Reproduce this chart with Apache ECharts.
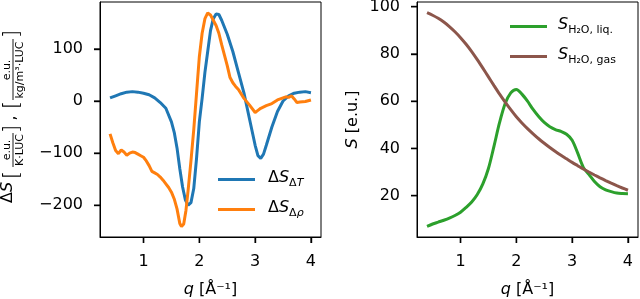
<!DOCTYPE html>
<html>
<head>
<meta charset="utf-8">
<script src="https://cdn.jsdelivr.net/npm/echarts@6/dist/echarts.min.js"></script>
<style>html,body{margin:0;padding:0;background:#fff}#c{width:640px;height:299px}</style>
</head>
<body>
<div id="c"></div>
<script>
// ---- data ----
const qDT  = [0.40,0.50,0.60,0.70,0.80,0.90,1.00,1.10,1.20,1.30,1.40,1.50,1.55,1.60,1.65,1.70,1.75,1.80,1.85,1.90,1.95,2.00,2.05,2.10,2.15,2.20,2.25,2.30,2.35,2.40,2.50,2.60,2.70,2.80,2.90,2.95,3.00,3.05,3.10,3.15,3.20,3.30,3.40,3.50,3.60,3.70,3.80,3.90,4.00];
const sDT  = [6,10,14,17,18,17,15,12,6,-3,-14,-40,-60,-90,-130,-165,-190,-200,-195,-168,-110,-40,5,55,95,135,158,167,166,155,128,95,55,15,-35,-60,-85,-105,-110,-102,-85,-50,-20,0,10,15,17,18,16];
const qDrho = [0.40,0.45,0.50,0.55,0.60,0.65,0.70,0.75,0.80,0.85,0.90,0.95,1.00,1.05,1.10,1.15,1.20,1.25,1.30,1.35,1.40,1.45,1.50,1.55,1.60,1.65,1.68,1.72,1.76,1.80,1.85,1.90,1.95,2.00,2.05,2.10,2.15,2.20,2.25,2.30,2.35,2.40,2.45,2.50,2.55,2.60,2.65,2.70,2.80,2.90,3.00,3.05,3.10,3.20,3.30,3.40,3.50,3.55,3.60,3.65,3.70,3.75,3.80,3.90,4.00];
const sDrho = [-63,-80,-95,-101,-94,-98,-104,-100,-98,-99,-102,-105,-108,-115,-124,-135,-138,-141,-146,-152,-159,-166,-175,-188,-207,-235,-241,-236,-210,-170,-115,-55,15,85,130,158,169,165,155,145,130,108,88,68,45,35,28,22,5,-8,-22,-18,-14,-9,-5,2,6,8,7,10,4,-3,-2,-1,2];
const qS   = [0.40,0.50,0.60,0.70,0.80,0.90,1.00,1.10,1.20,1.30,1.40,1.50,1.60,1.70,1.80,1.90,2.00,2.10,2.20,2.30,2.40,2.50,2.60,2.70,2.80,2.90,3.00,3.10,3.20,3.30,3.40,3.50,3.60,3.70,3.80,3.90,4.00];
const sLiq = [7,8,8.8,9.6,10.5,11.6,13,15,17.3,20.5,25,31.5,41,51,59,63.5,65,63,60,56.5,53.5,51,49.2,48,47.2,46,43.5,38,32,29,26,23.8,22.5,21.7,21.1,20.9,20.8];
const sGas = [97.5,96.4,95.1,93.5,91.6,89.4,86.9,84.1,81.0,77.6,74.0,70.3,66.6,63.0,59.6,56.4,53.4,50.8,48.4,46.2,44.1,42.2,40.4,38.7,37.1,35.6,34.1,32.7,31.3,30.0,28.75,27.55,26.4,25.3,24.25,23.25,22.3];
const xTicks = [1,2,3,4];
const yTicksL = [-200,-100,0,100];
const yTicksR = [20,40,60,80,100];
// axis ranges
const xRange = [0.22, 4.18];
const yRangeL = [-261, 190];
const yRangeR = [2.5, 102];

const FF = 'DejaVu Sans';
const pair = (qs, vs) => qs.map((q, i) => [q, vs[i]]);
const minus = v => String(v).replace('-', '\u2212');

const subRich = {
  n:  {fontFamily: FF, fontSize: 16, color: '#000', verticalAlign: 'bottom', padding: [0,0,3,0]},
  i:  {fontFamily: FF, fontSize: 16, color: '#000', fontStyle: 'italic', verticalAlign: 'bottom', padding: [0,0,3,0]},
  p:  {fontFamily: FF, fontSize: 16, color: '#000', verticalAlign: 'bottom', padding: [0,0,3,8]},
  ip: {fontFamily: FF, fontSize: 16, color: '#000', fontStyle: 'italic', verticalAlign: 'bottom', padding: [0,0,3,6]},
  sn: {fontFamily: FF, fontSize: 11, color: '#000', verticalAlign: 'bottom'},
  si: {fontFamily: FF, fontSize: 11, color: '#000', fontStyle: 'italic', verticalAlign: 'bottom'}
};
const legendLabels = {
  dT:   '{p|Δ}{i|S}{sn|Δ}{si|T}',
  drho: '{p|Δ}{i|S}{sn|Δ}{si|ρ}',
  liq:  '{ip|S}{sn|H₂O, liq.}',
  gas:  '{ip|S}{sn|H₂O, gas}'
};
function mkLegend(name, left, top) {
  return {
    data: [name], left: left, top: top, padding: 0, orient: 'vertical',
    icon: 'rect', itemWidth: 37, itemHeight: 3, selectedMode: false,
    formatter: n => legendLabels[n],
    textStyle: {rich: subRich}
  };
}
const tick = (vals) => ({show: true, length: 6, customValues: vals, lineStyle: {color: '#000', width: 1.4}});
const lbl = (vals, extra) => Object.assign({customValues: vals, color: '#000', fontFamily: FF, fontSize: 16, margin: 17}, extra || {});
const axLine = () => ({show: true, onZero: false, lineStyle: {color: '#000'}});
const nameRich = () => ({rich: {i: {fontFamily: FF, fontSize: 16, fontStyle: 'italic', color: '#000'}, n: {fontFamily: FF, fontSize: 16, color: '#000'}}});

// outward tick marks placed through the axes' own scales (at the axis edge)
function xTickSeries(ax) {
  const yMin = ax === 0 ? yRangeL[0] : yRangeR[0];
  return {type: 'scatter', xAxisIndex: ax, yAxisIndex: ax, silent: true, clip: false, z: 10,
    symbol: 'rect', symbolSize: [1.4, 6], symbolOffset: [0, 3], itemStyle: {color: '#000'},
    data: xTicks.map(t => [t, yMin])};
}
function yTickSeries(ax) {
  const vals = ax === 0 ? yTicksL : yTicksR;
  return {type: 'scatter', xAxisIndex: ax, yAxisIndex: ax, silent: true, clip: false, z: 10,
    symbol: 'rect', symbolSize: [6, 1.4], symbolOffset: [-3, 0], itemStyle: {color: '#000'},
    data: vals.map(t => [xRange[0], t])};
}

const chart = echarts.init(document.getElementById('c'));

// left y-axis title with fractions, built as text pieces in a rotated group
const tStyle = (text, size, extra) => Object.assign({text: text, fontFamily: FF, fontSize: size, fill: '#000', align: 'center', verticalAlign: 'middle'}, extra || {});
const br = {fontWeight: 200};
const yTitle = {
  type: 'group', x: 14, y: 203, rotation: Math.PI / 2,
  children: [
    {type: 'text', x: 0, y: -6, style: {text: '{n|Δ}{i|S}', align: 'left', verticalAlign: 'middle', rich: {
      n: {fontFamily: FF, fontSize: 16, color: '#000'}, i: {fontFamily: FF, fontSize: 16, color: '#000', fontStyle: 'italic'}}}},
    {type: 'text', x: 28, y: -1, style: tStyle('[', 21, br)},
    {type: 'text', x: 53, y: -7, style: tStyle('e.u.', 11)},
    {type: 'line', shape: {x1: 36, y1: -1, x2: 70, y2: -1}, style: {stroke: '#000', lineWidth: 0.9}},
    {type: 'text', x: 53, y: 6, style: tStyle('K·LUC', 11)},
    {type: 'text', x: 74, y: -1, style: tStyle(']', 21, br)},
    {type: 'text', x: 85, y: -3, style: tStyle(',', 16)},
    {type: 'text', x: 98, y: -1, style: tStyle('[', 21, br)},
    {type: 'text', x: 133, y: -7, style: tStyle('e.u.', 11)},
    {type: 'line', shape: {x1: 103, y1: -1, x2: 164, y2: -1}, style: {stroke: '#000', lineWidth: 0.9}},
    {type: 'text', x: 133, y: 6, style: tStyle('kg/m³·LUC', 11)},
    {type: 'text', x: 169, y: -1, style: tStyle(']', 21, br)}
  ]
};

chart.setOption({
  animation: false,
  grid: [
    {left: 100, right: 319, top: 2, bottom: 62, show: true, borderColor: '#000', outerBoundsMode: 'none'},
    {left: 417, right: 2, top: 2, bottom: 62, show: true, borderColor: '#000', outerBoundsMode: 'none'}
  ],
  xAxis: [0, 1].map(g => ({
    type: 'value', gridIndex: g, min: xRange[0], max: xRange[1],
    axisLine: axLine(), splitLine: {show: false},
    axisTick: tick(xTicks), axisLabel: lbl(xTicks),
    name: '{i|q}{n| [Å⁻¹]}', nameLocation: 'middle', nameGap: 45, nameTextStyle: nameRich()
  })),
  yAxis: [
    {
      type: 'value', gridIndex: 0, min: yRangeL[0], max: yRangeL[1],
      axisLine: axLine(), splitLine: {show: false},
      axisTick: tick(yTicksL), axisLabel: lbl(yTicksL, {formatter: minus})
    },
    {
      type: 'value', gridIndex: 1, min: yRangeR[0], max: yRangeR[1],
      axisLine: axLine(), splitLine: {show: false},
      axisTick: tick(yTicksR), axisLabel: lbl(yTicksR),
      name: '{i|S}{n| [e.u.]}', nameLocation: 'middle', nameRotate: 90, nameGap: 56, nameTextStyle: nameRich()
    }
  ],
  legend: [
    mkLegend('dT', 218, 170),
    mkLegend('drho', 218, 200),
    mkLegend('liq', 510, 17),
    mkLegend('gas', 510, 47)
  ],
  graphic: [yTitle],
  series: [
    {name: 'dT', type: 'line', xAxisIndex: 0, yAxisIndex: 0, data: pair(qDT, sDT), showSymbol: false, smooth: false, color: '#1f77b4', lineStyle: {width: 3}},
    {name: 'drho', type: 'line', xAxisIndex: 0, yAxisIndex: 0, data: pair(qDrho, sDrho), showSymbol: false, smooth: false, color: '#ff7f0e', lineStyle: {width: 3}},
    {name: 'liq', type: 'line', xAxisIndex: 1, yAxisIndex: 1, data: pair(qS, sLiq), showSymbol: false, smooth: 0.3, color: '#2ca02c', lineStyle: {width: 3}},
    {name: 'gas', type: 'line', xAxisIndex: 1, yAxisIndex: 1, data: pair(qS, sGas), showSymbol: false, smooth: 0.3, color: '#8c564b', lineStyle: {width: 3}},
    xTickSeries(0), xTickSeries(1), yTickSeries(0), yTickSeries(1)
  ]
});
</script>
</body>
</html>
